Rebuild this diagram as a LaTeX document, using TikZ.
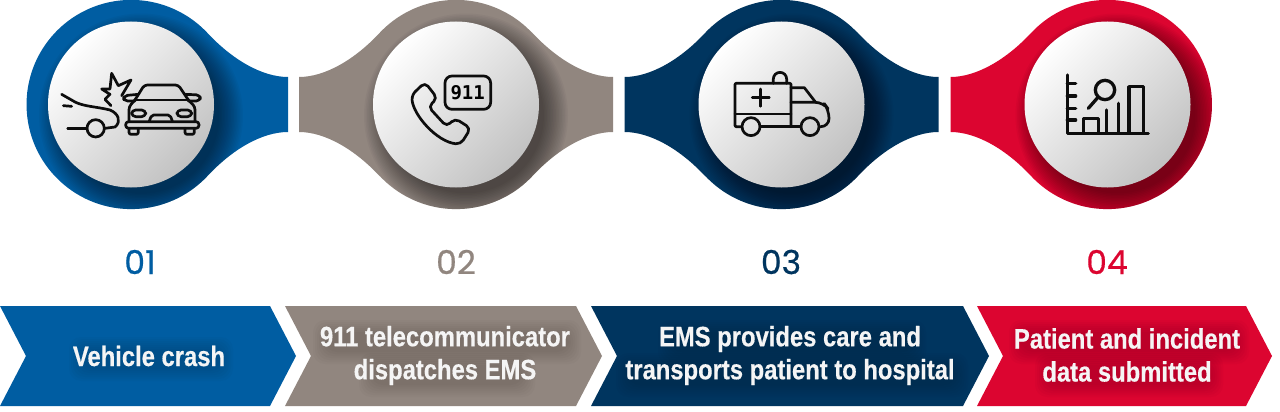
\documentclass[tikz,border=0pt]{standalone}
\usepackage{fontspec}
\setmainfont{Liberation Sans}
\newfontfamily\stepfont{Liberation Sans}[FakeStretch=0.85, BoldFeatures={FakeBold=0.4}]
\newfontfamily\numfont{Poppins}[FakeBold=0.5]
\newfontfamily\dialfont{DejaVu Sans Mono}
\usetikzlibrary{calc, positioning}

\definecolor{stepblue}{HTML}{005DA2}
\definecolor{stepgray}{HTML}{91867F}
\definecolor{stepnavy}{HTML}{00355F}
\definecolor{stepred}{HTML}{DC0530}

\tikzset{
    iconline/.style={draw=black!95, line width=2.7pt, line join=round, line cap=round, fill=none},
    numlabel/.style={font=\numfont\fontsize{33}{33}\selectfont, anchor=center},
    steplabel/.style={font=\stepfont\bfseries\fontsize{28}{33}\selectfont, text=white!96!black, align=center, anchor=center, inner sep=0pt}
}

% outlines of the coloured blobs, relative to the centre of the disc
\newcommand{\flareeast}{(76,-72) .. controls (101,-45) and (131,-27.5) .. (157,-27.5) -- (157,27.5) .. controls (131,27.5) and (101,45) .. (76,72)}
\newcommand{\flarewest}{(-76,72) .. controls (-101,45) and (-131,27.5) .. (-157,27.5) -- (-157,-27.5) .. controls (-131,-27.5) and (-101,-45) .. (-76,-72)}
\newcommand{\blobfirst}{\flareeast arc[start angle=43.5, end angle=316.5, radius=104.6] -- cycle}
\newcommand{\blobmiddle}{\flareeast arc[start angle=43.5, end angle=136.5, radius=104.6] -- \flarewest arc[start angle=-136.5, end angle=-43.5, radius=104.6] -- cycle}
\newcommand{\bloblast}{\flarewest arc[start angle=-136.5, end angle=136.5, radius=104.6] -- cycle}

\begin{document}
\begin{tikzpicture}[x=1pt, y=-1pt]

    \useasboundingbox (0,0) rectangle (1280,412);
    \fill[white] (0,0) rectangle (1280,412);

    % ==========================================
    % 1. BLOBS AND DISCS
    % ==========================================
    \foreach \cx/\col/\outline in {131/stepblue/\blobfirst, 456/stepgray/\blobmiddle, 781.5/stepnavy/\blobmiddle, 1107.5/stepred/\bloblast} {
        \begin{scope}[shift={(\cx,104.5)}]
            \fill[\col] \outline;
            \begin{scope}
                \clip \outline;
                % soft shadow of the disc
                \foreach \r in {78,79.5,...,102} {
                    \fill[black, opacity=0.03] (10,11) circle (\r);
                }
            \end{scope}
            \shade[top color=white, bottom color=black!24, shading angle=45] (0,0) circle (83);
        \end{scope}
    }

    % ==========================================
    % 2. ICON: VEHICLE CRASH
    % ==========================================
    \begin{scope}[shift={(55,65)}, x=0.3333pt, y=-0.3333pt]
        % car coming from the left
        \draw[iconline] (20,88) -- (62,112) .. controls (90,125) and (125,125) .. (165,135)
            .. controls (190,145) and (200,170) .. (180,186) -- (150,190);
        \draw[iconline] (122,190) circle (26);
        \draw[iconline] (25,122) -- (50,124);
        \draw[iconline] (38,190) -- (96,190);
        % burst
        \draw[iconline] (200,92) -- (228,45) -- (190,62) -- (170,25) -- (165,72) -- (140,72)
            -- (165,88) -- (150,103) -- (168,122);
        % car seen from the front
        \draw[iconline, rounded corners=3pt] (222,170) -- (222,125) -- (240,105) -- (268,60)
            -- (370,60) -- (400,105) -- (420,125) -- (420,170);
        \draw[iconline] (240,105) -- (400,105);
        \draw[iconline, rounded corners=3pt] (212,170) rectangle (432,190);
        \draw[iconline, rounded corners=2pt] (222,190) -- (222,208) -- (250,208) -- (250,190);
        \draw[iconline, rounded corners=2pt] (390,190) -- (390,208) -- (418,208) -- (418,190);
        \draw[iconline, rounded corners=4pt] (240,108) -- (206,108) -- (206,92) -- (250,88);
        \draw[iconline, rounded corners=4pt] (400,108) -- (436,108) -- (436,90) -- (392,88);
        \draw[iconline, rounded corners=4pt] (230,135) rectangle (272,155);
        \draw[iconline, rounded corners=4pt] (366,135) rectangle (410,155);
        \draw[iconline, rounded corners=2pt] (283,168) -- (290,150) -- (345,150) -- (352,168);
    \end{scope}

    % ==========================================
    % 3. ICON: PHONE AND 911
    % ==========================================
    \begin{scope}[shift={(400,65)}, x=0.3333pt, y=-0.3333pt]
        \draw[iconline, rounded corners=7pt] (135,33) rectangle (272,133);
        \node[font=\dialfont\bfseries\fontsize{19}{19}\selectfont, inner sep=0pt] (dialcode) at (203,84) {911};
        \draw[iconline, rounded corners=5pt] (35,90) .. controls (40,150) and (110,230) .. (182,238)
            -- (212,190) -- (165,160) -- (140,185) -- (85,125) -- (112,100) -- (75,52) -- cycle;
    \end{scope}

    % ==========================================
    % 4. ICON: AMBULANCE
    % ==========================================
    \begin{scope}[shift={(725,65)}, x=0.3333pt, y=-0.3333pt]
        \draw[iconline, rounded corners=1pt] (50,185) -- (30,185) -- (30,55) -- (198,55) -- (198,185);
        \draw[iconline] (30,147) -- (198,147);
        \draw[iconline] (105,185) -- (228,185);
        \draw[iconline] (82,97) -- (133,97);
        \draw[iconline] (107,72) -- (107,124);
        \draw[iconline] (145,55) -- (145,42) arc[start angle=180, end angle=360, radius=20] -- (185,55);
        \draw[iconline] (198,68) -- (238,68) -- (272,112);
        \draw[iconline, rounded corners=8pt] (198,112) -- (295,112) -- (312,135) -- (312,185) -- (283,185);
        \draw[iconline] (78,185) circle (27);
        \draw[iconline] (255,185) circle (27);
    \end{scope}

    % ==========================================
    % 5. ICON: DATA CHART
    % ==========================================
    \begin{scope}[shift={(1055,65)}, x=0.3333pt, y=-0.3333pt]
        \draw[iconline, line width=3.3pt] (37,30) -- (37,205) -- (280,205);
        \foreach \ty in {55,93,130,165} {
            \draw[iconline, line width=3.3pt] (37,\ty) -- (62,\ty);
        }
        \draw[iconline, line width=3.3pt] (85,205) -- (85,160) -- (130,160) -- (130,205);
        \draw[iconline, line width=3.3pt] (155,205) -- (155,135);
        \draw[iconline, line width=3.3pt] (190,205) -- (190,115);
        \draw[iconline, line width=3.3pt] (222,205) -- (222,65) -- (265,65) -- (265,205);
        \draw[iconline, line width=3.3pt] (150,75) circle (29);
        \draw[iconline, line width=3.3pt] (128,98) -- (100,130);
    \end{scope}

    % ==========================================
    % 6. STEP NUMBERS
    % ==========================================
    \node[numlabel, text=stepblue] (numa) at (140,262) {01};
    \node[numlabel, text=stepgray] (numb) at (456,262) {02};
    \node[numlabel, text=stepnavy] (numc) at (781,262) {03};
    \node[numlabel, text=stepred] (numd) at (1107,262) {04};

    % ==========================================
    % 7. CHEVRONS WITH THEIR LABELS
    % ==========================================
    \foreach \xa/\xb/\col in {0/270/stepblue, 285/576/stepgray, 591/963/stepnavy, 977/1246/stepred} {
        \fill[\col] (\xa,306) -- (\xb,306) -- (\xb+26,356) -- (\xb,406) -- (\xa,406) -- (\xa+26,356) -- cycle;
    }

    % soft dark glow behind the labels
    \foreach \gx/\gy/\gw/\gh in {149/356/70/10, 445/339/122/10, 445/372/76/10, 790/339/122/10, 790/372/164/10, 1127/339/108/10, 1127/372/82/10} {
        \foreach \g in {0,2,...,12} {
            \fill[black, opacity=0.02, rounded corners=12pt] (\gx-\gw-\g+2,\gy-\gh-\g+3) rectangle (\gx+\gw+\g+2,\gy+\gh+\g+3);
        }
    }

    \node[steplabel] (stepa) at (149,356) {Vehicle crash};
    \node[steplabel] (stepb) at (445,355.5) {911 telecommunicator\\dispatches EMS};
    \node[steplabel] (stepc) at (790,355.5) {EMS provides care and\\transports patient to hospital};
    \node[steplabel] (stepd) at (1127,355) {Patient and incident\\data submitted};

\end{tikzpicture}
\end{document}
